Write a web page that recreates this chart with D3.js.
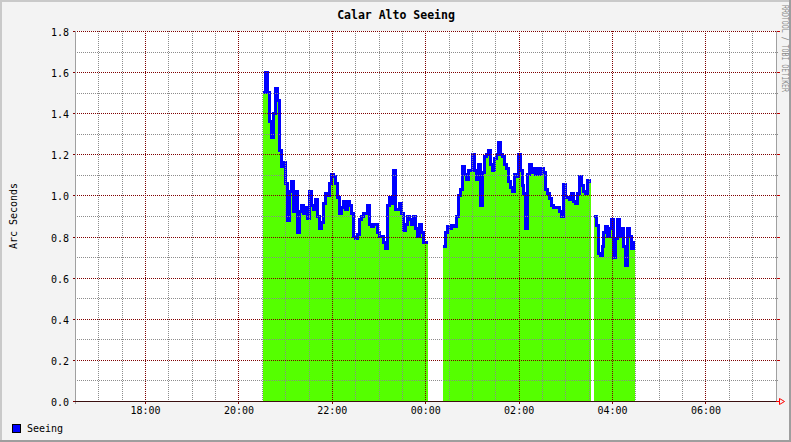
<!DOCTYPE html>
<html><head><meta charset="utf-8">
<script src="https://cdn.jsdelivr.net/npm/d3@7"></script>
<style>html,body{margin:0;padding:0;background:#f3f3f3}svg{display:block}</style>
</head><body>
<svg id="c" width="791" height="442"></svg>
<script>
// ---------- data ----------
const chartTitle = "Calar Alto Seeing";
const yAxisTitle = "Arc Seconds";
const seriesName = "Seeing";
const watermark = "RRDTOOL / TOBI OETIKER";
const timeDomain = ["16:30", "07:30"];
const yMajorTicks = [0.0, 0.2, 0.4, 0.6, 0.8, 1.0, 1.2, 1.4, 1.6, 1.8];
const yMinorTicks = [0.1, 0.3, 0.5, 0.7, 0.9, 1.1, 1.3, 1.5, 1.7];
const xTickLabels = ["18:00", "20:00", "22:00", "00:00", "02:00", "04:00", "06:00"];
const segmentStarts = ["20:32", "00:23", "03:37"];
const segmentEnds = ["00:03", "03:33", "04:30"];
const seeingA = [1.50,1.60,1.50,1.36,1.28,1.40,1.52,1.46,1.22,1.14,1.16,1.06,0.88,1.02,1.07,0.92,1.02,0.82,0.92,0.95,
  0.91,0.94,0.89,1.02,0.95,0.93,0.98,0.90,0.84,0.87,0.96,1.01,1.00,1.06,1.10,1.09,1.06,0.99,0.91,0.94,
  0.97,0.93,0.97,0.95,0.91,0.80,0.79,0.81,0.885,0.90,0.91,0.91,0.95,0.86,0.85,0.86,0.86,0.82,0.80,0.80,
  0.77,0.74,0.95,0.99,0.96,1.12,0.93,0.93,0.96,0.91,0.83,0.86,0.90,0.885,0.86,0.90,0.84,0.80,0.86,0.82,
  0.77,0.77];
const seeingB = [0.75,0.82,0.85,0.84,0.855,0.85,0.85,0.90,1.00,1.03,1.14,1.10,1.08,1.12,1.12,1.20,1.12,1.08,1.15,0.95,
  1.11,1.19,1.20,1.22,1.15,1.12,1.18,1.20,1.26,1.20,1.19,1.15,1.13,1.07,1.04,1.02,1.10,1.09,1.20,1.12,
  1.05,1.01,0.84,1.10,1.15,1.11,1.13,1.10,1.13,1.10,1.13,1.11,1.03,1.01,0.985,0.95,0.94,0.94,0.94,0.92,
  0.90,1.055,0.99,0.99,0.98,1.01,0.97,0.96,1.01,1.09,1.05,1.02,1.01,1.075,1.07];
const seeingC = [0.90,0.855,0.72,0.71,0.75,0.82,0.85,0.80,0.84,0.885,0.70,0.79,0.885,0.80,0.84,0.75,0.66,0.84,0.80,0.74,0.77];

// ---------- helpers ----------
function T(s) {
  const [h, m] = s.split(":").map(Number);
  return new Date(2009, 0, h < 12 ? 2 : 1, h, m);
}
function buildSegment(vals, s, e) {
  const t0 = T(s), t1 = T(e), n = vals.length, dt = (t1 - t0) / n;
  const pts = vals.map((v, i) => ({t: new Date(+t0 + i * dt), v}));
  pts.push({t: t1, v: vals[n - 1]});
  return pts;
}
const segments = [
  buildSegment(seeingA, segmentStarts[0], segmentEnds[0]),
  buildSegment(seeingB, segmentStarts[1], segmentEnds[1]),
  buildSegment(seeingC, segmentStarts[2], segmentEnds[2])
];

// ---------- layout ----------
const W = 791, H = 442;
const L = 75, R = 775.5, TOP = 31, BOT = 401;
const svg = d3.select("#c");
const font = "'DejaVu Sans Mono', 'Liberation Mono', monospace";

const x = d3.scaleTime().domain([T(timeDomain[0]), T(timeDomain[1])]).range([L, R]);
const y = d3.scaleLinear().domain([0, 1.8]).range([BOT, TOP]);
const px = v => Math.round(x(v)) + 0.5;
const py = v => Math.round(y(v)) + 0.5;

// background & frame
svg.append("rect").attr("width", W).attr("height", H).attr("fill", "#f3f3f3");
svg.append("rect").attr("x", 0).attr("y", 0).attr("width", W).attr("height", 2).attr("fill", "#c9c9c9");
svg.append("rect").attr("x", 0).attr("y", 0).attr("width", 2).attr("height", H).attr("fill", "#c9c9c9");
svg.append("rect").attr("x", 0).attr("y", H - 2).attr("width", W).attr("height", 2).attr("fill", "#9e9e9e");
svg.append("rect").attr("x", W - 2).attr("y", 0).attr("width", 2).attr("height", H).attr("fill", "#9e9e9e");

// plot area
svg.append("rect").attr("x", L).attr("y", TOP).attr("width", 776 - L).attr("height", BOT - TOP).attr("fill", "#ffffff");

// data
const area = d3.area().x(d => x(d.t)).y0(y(0)).y1(d => y(d.v)).curve(d3.curveStepAfter);
const line = d3.line().x(d => x(d.t)).y(d => y(d.v)).curve(d3.curveStepAfter);
const g = svg.append("g");
segments.forEach(seg => {
  g.append("path").attr("d", area(seg)).attr("fill", "#55ff00").attr("shape-rendering", "crispEdges");
});
segments.forEach(seg => {
  g.append("path").attr("d", line(seg)).attr("fill", "none").attr("stroke", "#0000ff")
    .attr("stroke-width", 3).attr("shape-rendering", "crispEdges");
});

// grid
const grid = svg.append("g").attr("shape-rendering", "crispEdges").attr("stroke-dasharray", "1,1");
const minorTimes = d3.timeMinute.every(30).range(T("17:00"), T("07:30"));
const majorTimes = xTickLabels.map(T);
const isMajor = t => majorTimes.some(m => +m === +t);
minorTimes.filter(t => !isMajor(t)).forEach(t => {
  grid.append("line").attr("x1", px(t)).attr("x2", px(t)).attr("y1", TOP).attr("y2", BOT + 1)
    .attr("stroke", "#8c8c8c");
});
yMinorTicks.forEach(v => {
  grid.append("line").attr("x1", L).attr("x2", 778).attr("y1", py(v)).attr("y2", py(v)).attr("stroke", "#8c8c8c");
});
majorTimes.forEach(t => {
  grid.append("line").attr("x1", px(t)).attr("x2", px(t)).attr("y1", TOP).attr("y2", BOT + 1)
    .attr("stroke", "#800000");
});
yMajorTicks.forEach(v => {
  grid.append("line").attr("x1", L).attr("x2", 776).attr("y1", py(v)).attr("y2", py(v)).attr("stroke", "#800000");
});

// axes & ticks
const ax = svg.append("g").attr("shape-rendering", "crispEdges");
ax.append("line").attr("x1", L + 0.5).attr("x2", L + 0.5).attr("y1", TOP).attr("y2", BOT + 3).attr("stroke", "#a0a0a0");
ax.append("line").attr("x1", 776.5).attr("x2", 776.5).attr("y1", TOP).attr("y2", BOT).attr("stroke", "#a0a0a0");
yMajorTicks.forEach(v => {
  ax.append("line").attr("x1", L - 2).attr("x2", L).attr("y1", py(v)).attr("y2", py(v)).attr("stroke", "#800000");
  ax.append("line").attr("x1", 777).attr("x2", 780).attr("y1", py(v)).attr("y2", py(v)).attr("stroke", "#c00000");
});
majorTimes.forEach(t => {
  ax.append("line").attr("x1", px(t)).attr("x2", px(t)).attr("y1", BOT).attr("y2", BOT + 3).attr("stroke", "#800000");
});
ax.append("line").attr("x1", L).attr("x2", 780).attr("y1", BOT + 0.5).attr("y2", BOT + 0.5).attr("stroke", "#3a1010");
// arrow
svg.append("path").attr("d", "M776,401.5H780M779.5,398.5L784.5,401.5L779.5,404.5Z")
  .attr("fill", "none").attr("stroke", "#ff0000").attr("stroke-width", 1);

// labels
const fmt = d3.format(".1f");
svg.append("g").selectAll("text").data(yMajorTicks).join("text")
  .attr("x", 69).attr("y", d => Math.round(y(d)) + 5).attr("text-anchor", "end")
  .attr("font-family", font).attr("font-size", "10px").attr("fill", "#000").text(d => fmt(d));
svg.append("g").selectAll("text").data(xTickLabels).join("text")
  .attr("x", d => x(T(d)) + 0.5).attr("y", 414).attr("text-anchor", "middle")
  .attr("font-family", font).attr("font-size", "10px").attr("fill", "#000").text(d => d);

svg.append("text").attr("x", 396).attr("y", 19).attr("text-anchor", "middle")
  .attr("font-family", font).attr("font-weight", "bold").attr("font-size", "11.5px").attr("fill", "#000")
  .text(chartTitle);

svg.append("text").attr("transform", `translate(17,${(TOP + BOT) / 2}) rotate(-90)`).attr("text-anchor", "middle")
  .attr("font-family", font).attr("font-size", "10px").attr("fill", "#000").text(yAxisTitle);

svg.append("text").attr("transform", "translate(782,5) rotate(90)")
  .attr("font-family", font).attr("font-size", "9px").attr("fill", "#8a8a8a")
  .attr("textLength", 87).attr("lengthAdjust", "spacingAndGlyphs").text(watermark);

// legend
svg.append("rect").attr("x", 12.5).attr("y", 424.5).attr("width", 8).attr("height", 8)
  .attr("fill", "#0000ff").attr("stroke", "#000").attr("shape-rendering", "crispEdges");
svg.append("text").attr("x", 27).attr("y", 432).attr("font-family", font).attr("font-size", "10px")
  .attr("fill", "#000").text(seriesName);
</script>
</body></html>
